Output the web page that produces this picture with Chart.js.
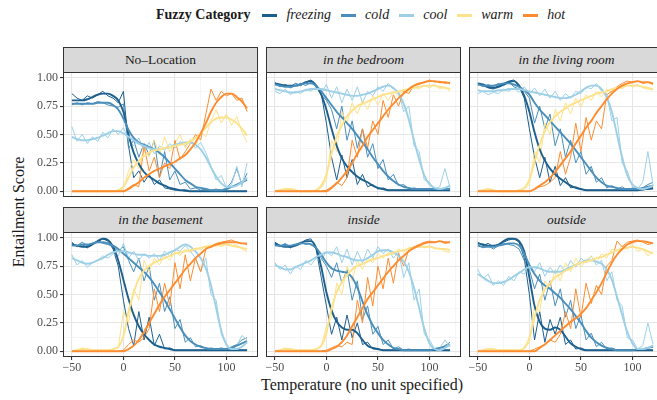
<!DOCTYPE html>
<html>
<head>
<meta charset="utf-8">
<script src="https://cdn.jsdelivr.net/npm/chart.js@4.4.1/dist/chart.umd.min.js"></script>
<style>
  body { margin: 0; width: 657px; height: 400px; overflow: hidden; position: relative; background: #fff; font-family: "Liberation Serif", "Times New Roman", serif; color: #1a1a1a; }
  #legend { position: absolute; left: 156px; top: 7px; display: flex; align-items: center; font-size: 14px; white-space: nowrap; }
  #legend .title { font-weight: bold; margin-right: 12px; }
  #legend .key { width: 15px; height: 3px; margin-right: 9px; }
  #legend .lab { font-style: italic; margin-right: 10px; }
  .strip { position: absolute; box-sizing: border-box; background: #d9d9d9; border: 1px solid #333; font-size: 13.5px; text-align: center; line-height: 23px; }
  .frame { position: absolute; box-sizing: border-box; border: 1px solid #333; pointer-events: none; }
  canvas { position: absolute; }
  #ytitle { position: absolute; left: 19px; top: 212px; transform: translate(-50%, -50%) rotate(-90deg); font-size: 16px; white-space: nowrap; }
  #xtitle { position: absolute; left: 362px; top: 385px; transform: translate(-50%, -50%); font-size: 16px; white-space: nowrap; }
</style>
</head>
<body>
<div id="legend"></div>
<div id="ytitle">Entailment Score</div>
<div id="xtitle">Temperature (no unit specified)</div>
<script>
// temperatures, every 5 degrees
const temps = [-50,-45,-40,-35,-30,-25,-20,-15,-10,-5,0,5,10,15,20,25,30,35,40,45,50,55,60,65,70,75,80,85,90,95,100,105,110,115,120];
const categories = ["freezing", "cold", "cool", "warm", "hot"];
const colors = ["#1d5f8c", "#4a8fbb", "#9dd0e7", "#fde28b", "#fd8c30"];
const xTicks = [-50, 0, 50, 100];
const xMinor = [-25, 25, 75, 125];
const yTicks = [0, 0.25, 0.5, 0.75, 1];
const yMinor = [0.125, 0.375, 0.625, 0.875];
const serif = "'Liberation Serif', 'Times New Roman', serif";

// No-Location
const noLocFreezing = [0.86,0.82,0.80,0.84,0.82,0.85,0.88,0.84,0.82,0.78,0.88,0.40,0.12,0.18,0.08,0.15,0.06,0.10,0.03,0.02,0.01,0.01,0,0,0,0,0,0,0,0,0,0,0,0,0];
const noLocFreezingFit = [0.80,0.80,0.80,0.81,0.83,0.85,0.86,0.86,0.84,0.80,0.70,0.50,0.34,0.24,0.17,0.13,0.10,0.07,0.05,0.03,0.02,0.01,0.01,0,0,0,0,0,0,0,0,0,0,0,0];
const noLocCold = [0.76,0.78,0.76,0.78,0.77,0.79,0.78,0.76,0.75,0.74,0.77,0.38,0.45,0.30,0.42,0.32,0.45,0.12,0.35,0.10,0.18,0.06,0.08,0.02,0.03,0.01,0.02,0.01,0.02,0.01,0.03,0.08,0.20,0.06,0.16];
const noLocColdFit = [0.77,0.77,0.77,0.77,0.77,0.78,0.78,0.78,0.76,0.72,0.64,0.54,0.47,0.43,0.41,0.39,0.37,0.34,0.30,0.25,0.20,0.15,0.10,0.07,0.04,0.03,0.02,0.01,0.01,0.01,0.02,0.04,0.06,0.08,0.10];
const noLocCool = [0.57,0.44,0.50,0.42,0.48,0.44,0.52,0.47,0.55,0.50,0.56,0.46,0.40,0.47,0.35,0.43,0.33,0.40,0.36,0.42,0.38,0.44,0.40,0.45,0.38,0.43,0.34,0.22,0.10,0.14,0.03,0.06,0.22,0.04,0.25];
const noLocCoolFit = [0.48,0.46,0.45,0.45,0.46,0.47,0.49,0.51,0.53,0.53,0.51,0.48,0.45,0.42,0.40,0.38,0.37,0.37,0.38,0.39,0.41,0.42,0.43,0.43,0.41,0.37,0.30,0.21,0.13,0.07,0.04,0.04,0.05,0.08,0.12];
const noLocWarm = [0,0,0,0,0,0,0,0,0,0,0.02,0.18,0.28,0.20,0.38,0.30,0.45,0.32,0.48,0.35,0.42,0.50,0.38,0.46,0.40,0.52,0.48,0.62,0.72,0.60,0.68,0.58,0.66,0.52,0.43];
const noLocWarmFit = [0,0,0,0,0,0,0,0,0,0.01,0.04,0.12,0.21,0.27,0.31,0.34,0.36,0.37,0.38,0.39,0.40,0.41,0.42,0.44,0.47,0.51,0.56,0.61,0.64,0.65,0.65,0.63,0.60,0.55,0.49];
const noLocHot = [0,0,0,0,0,0,0,0,0,0,0,0.03,0.06,0.04,0.40,0.18,0.30,0.12,0.25,0.20,0.45,0.28,0.35,0.42,0.50,0.45,0.68,0.90,0.80,0.88,0.84,0.86,0.80,0.82,0.70];
const noLocHotFit = [0,0,0,0,0,0,0,0,0,0,0,0.02,0.05,0.08,0.12,0.15,0.18,0.20,0.22,0.24,0.26,0.29,0.32,0.37,0.43,0.51,0.60,0.70,0.78,0.83,0.86,0.86,0.83,0.79,0.73];

// in the bedroom
const bedFreezing = [0.95,0.92,0.94,0.92,0.95,0.93,0.96,0.98,0.94,0.86,0.60,0.30,0.10,0.32,0.12,0.28,0.06,0.15,0.04,0.06,0.02,0.03,0.01,0.01,0.01,0.01,0.01,0.01,0.01,0.01,0.01,0.01,0.01,0.01,0.01];
const bedFreezingFit = [0.95,0.94,0.93,0.93,0.93,0.94,0.96,0.97,0.93,0.85,0.72,0.55,0.40,0.29,0.22,0.17,0.13,0.10,0.08,0.05,0.03,0.02,0.01,0.01,0.01,0.01,0.01,0.01,0.01,0.01,0.01,0.01,0.01,0.01,0.01];
const bedCold = [0.96,0.92,0.94,0.91,0.93,0.95,0.93,0.96,0.92,0.85,0.80,0.72,0.55,0.75,0.45,0.62,0.38,0.55,0.30,0.42,0.20,0.28,0.10,0.15,0.05,0.06,0.02,0.03,0.02,0.02,0.02,0.02,0.02,0.02,0.02];
const bedColdFit = [0.94,0.93,0.92,0.92,0.93,0.94,0.95,0.95,0.93,0.88,0.82,0.76,0.70,0.65,0.60,0.55,0.49,0.43,0.37,0.30,0.24,0.18,0.13,0.09,0.06,0.04,0.03,0.02,0.02,0.02,0.02,0.02,0.02,0.02,0.02];
const bedCool = [0.88,0.86,0.90,0.85,0.88,0.86,0.90,0.88,0.92,0.86,0.94,0.82,0.92,0.78,0.90,0.80,0.92,0.78,0.88,0.84,0.92,0.88,0.95,0.90,0.88,0.70,0.75,0.40,0.35,0.10,0.08,0.02,0.04,0.20,0.03];
const bedCoolFit = [0.90,0.89,0.88,0.87,0.87,0.88,0.89,0.90,0.90,0.90,0.89,0.88,0.87,0.86,0.85,0.84,0.84,0.85,0.86,0.88,0.90,0.92,0.93,0.91,0.86,0.77,0.63,0.45,0.28,0.14,0.06,0.03,0.02,0.03,0.05];
const bedWarm = [0,0.01,0.02,0.02,0.01,0,0,0,0.01,0.03,0.10,0.45,0.35,0.70,0.60,0.78,0.68,0.80,0.72,0.84,0.76,0.86,0.80,0.88,0.84,0.90,0.88,0.92,0.90,0.93,0.91,0.94,0.90,0.92,0.88];
const bedWarmFit = [0,0.01,0.02,0.02,0.01,0,0,0,0.01,0.05,0.15,0.33,0.48,0.58,0.66,0.71,0.75,0.77,0.79,0.81,0.83,0.85,0.86,0.87,0.88,0.89,0.90,0.91,0.92,0.93,0.93,0.93,0.92,0.91,0.90];
const bedHot = [0,0,0,0,0,0,0,0,0,0,0.01,0.04,0.08,0.05,0.12,0.45,0.30,0.55,0.38,0.62,0.50,0.80,0.65,0.85,0.75,0.88,0.86,0.93,0.94,0.96,0.98,0.96,0.97,0.95,0.96];
const bedHotFit = [0,0,0,0,0,0,0,0,0,0,0,0.03,0.07,0.12,0.18,0.25,0.33,0.40,0.48,0.54,0.60,0.66,0.72,0.77,0.82,0.86,0.90,0.93,0.95,0.96,0.97,0.97,0.96,0.96,0.95];

// in the living room
const livFreezing = [0.95,0.93,0.91,0.90,0.93,0.95,0.97,0.98,0.92,0.82,0.55,0.30,0.12,0.30,0.08,0.22,0.05,0.12,0.03,0.04,0.02,0.01,0.01,0.01,0.01,0.01,0.01,0.01,0.01,0.01,0.01,0.01,0.01,0.02,0.02];
const livFreezingFit = [0.95,0.94,0.92,0.91,0.92,0.94,0.96,0.97,0.93,0.84,0.70,0.52,0.37,0.27,0.20,0.15,0.11,0.08,0.05,0.03,0.02,0.01,0.01,0.01,0.01,0.01,0.01,0.01,0.01,0.01,0.01,0.01,0.02,0.02,0.03];
const livCold = [0.95,0.92,0.94,0.92,0.95,0.93,0.96,0.92,0.90,0.88,0.82,0.60,0.75,0.55,0.68,0.40,0.55,0.30,0.45,0.25,0.35,0.15,0.22,0.08,0.12,0.03,0.05,0.02,0.04,0.01,0.03,0.02,0.03,0.06,0.08];
const livColdFit = [0.94,0.93,0.93,0.93,0.94,0.95,0.95,0.94,0.92,0.89,0.85,0.78,0.72,0.67,0.62,0.57,0.52,0.47,0.42,0.36,0.30,0.24,0.18,0.12,0.08,0.05,0.04,0.03,0.02,0.02,0.02,0.02,0.03,0.04,0.05];
const livCool = [0.86,0.88,0.85,0.87,0.86,0.90,0.88,0.91,0.87,0.92,0.86,0.91,0.84,0.90,0.82,0.88,0.80,0.86,0.82,0.88,0.86,0.92,0.90,0.95,0.88,0.86,0.62,0.65,0.25,0.18,0.04,0.02,0.08,0.35,0.05];
const livCoolFit = [0.89,0.88,0.88,0.88,0.89,0.89,0.90,0.90,0.90,0.89,0.88,0.87,0.86,0.85,0.84,0.83,0.82,0.82,0.83,0.85,0.88,0.91,0.93,0.93,0.90,0.83,0.70,0.50,0.30,0.14,0.06,0.03,0.02,0.03,0.05];
const livWarm = [0,0.01,0.02,0.01,0,0,0,0,0.01,0.02,0.06,0.35,0.25,0.60,0.50,0.72,0.62,0.78,0.68,0.82,0.74,0.85,0.80,0.88,0.83,0.90,0.87,0.92,0.90,0.94,0.92,0.94,0.91,0.90,0.89];
const livWarmFit = [0,0.01,0.02,0.01,0,0,0,0,0.01,0.03,0.10,0.26,0.41,0.53,0.61,0.66,0.70,0.73,0.76,0.78,0.80,0.82,0.84,0.86,0.87,0.88,0.90,0.91,0.92,0.93,0.93,0.93,0.92,0.91,0.90];
const livHot = [0,0,0,0,0,0,0,0,0,0,0,0.02,0.04,0.05,0.08,0.12,0.35,0.15,0.30,0.60,0.35,0.65,0.45,0.62,0.55,0.85,0.88,0.92,0.95,0.97,0.96,0.97,0.95,0.96,0.94];
const livHotFit = [0,0,0,0,0,0,0,0,0,0,0,0.02,0.05,0.08,0.12,0.17,0.23,0.29,0.35,0.42,0.49,0.56,0.62,0.69,0.75,0.81,0.86,0.90,0.93,0.95,0.96,0.97,0.96,0.96,0.95];

// in the basement
const baseFreezing = [0.96,0.92,0.94,0.91,0.95,0.96,0.99,0.97,0.90,0.75,0.45,0.20,0.05,0.35,0.10,0.30,0.05,0.15,0.02,0.03,0.01,0.01,0.01,0.01,0.01,0.01,0.01,0.01,0.01,0.01,0.01,0.01,0.01,0.01,0.01];
const baseFreezingFit = [0.94,0.93,0.92,0.92,0.94,0.97,0.99,0.98,0.92,0.80,0.63,0.46,0.32,0.22,0.15,0.10,0.06,0.04,0.03,0.02,0.01,0.01,0.01,0.01,0.01,0.01,0.01,0.01,0.01,0.01,0.01,0.01,0.01,0.01,0.01];
const baseCold = [0.95,0.93,0.96,0.93,0.95,0.97,0.95,0.94,0.92,0.88,0.92,0.80,0.70,0.82,0.62,0.75,0.45,0.60,0.35,0.48,0.20,0.28,0.08,0.12,0.04,0.05,0.02,0.03,0.02,0.03,0.02,0.04,0.06,0.10,0.12];
const baseColdFit = [0.93,0.93,0.94,0.94,0.95,0.96,0.96,0.95,0.93,0.90,0.86,0.82,0.78,0.74,0.70,0.65,0.59,0.52,0.45,0.37,0.29,0.21,0.14,0.09,0.06,0.04,0.03,0.02,0.02,0.02,0.02,0.03,0.05,0.07,0.09];
const baseCool = [0.85,0.76,0.80,0.74,0.78,0.80,0.84,0.82,0.86,0.84,0.95,0.82,0.88,0.80,0.86,0.82,0.86,0.80,0.88,0.84,0.90,0.88,0.93,0.88,0.82,0.70,0.82,0.50,0.45,0.15,0.05,0.02,0.05,0.14,0.10];
const baseCoolFit = [0.82,0.80,0.78,0.77,0.78,0.80,0.82,0.85,0.87,0.88,0.88,0.87,0.86,0.85,0.85,0.84,0.84,0.84,0.85,0.87,0.89,0.92,0.94,0.92,0.88,0.82,0.73,0.58,0.38,0.18,0.06,0.02,0.02,0.04,0.08];
const baseWarm = [0,0.01,0.03,0.02,0.01,0.01,0.01,0.01,0.02,0.03,0.35,0.25,0.55,0.45,0.80,0.70,0.82,0.76,0.85,0.80,0.88,0.84,0.90,0.87,0.91,0.89,0.93,0.91,0.94,0.92,0.95,0.93,0.94,0.90,0.88];
const baseWarmFit = [0,0.01,0.02,0.02,0.01,0.01,0.01,0.01,0.02,0.04,0.13,0.35,0.52,0.64,0.71,0.75,0.78,0.80,0.82,0.84,0.86,0.87,0.88,0.89,0.90,0.91,0.92,0.93,0.93,0.94,0.94,0.93,0.92,0.91,0.90];
const baseHot = [0,0,0,0,0,0,0,0,0,0,0.01,0.06,0.10,0.08,0.12,0.20,0.55,0.35,0.60,0.40,0.78,0.55,0.85,0.62,0.82,0.70,0.90,0.92,0.95,0.96,0.97,0.98,0.96,0.95,0.94];
const baseHotFit = [0,0,0,0,0,0,0,0,0,0,0,0.02,0.05,0.10,0.17,0.25,0.33,0.41,0.48,0.54,0.60,0.66,0.72,0.77,0.82,0.86,0.90,0.92,0.94,0.95,0.96,0.96,0.96,0.95,0.95];

// inside
const inFreezing = [0.96,0.93,0.94,0.91,0.94,0.95,0.98,0.99,0.90,0.65,0.40,0.15,0.30,0.10,0.32,0.12,0.25,0.06,0.08,0.02,0.02,0.01,0.01,0.01,0.01,0.01,0.01,0.01,0.01,0.01,0.01,0.01,0.01,0.01,0.01];
const inFreezingFit = [0.95,0.93,0.92,0.92,0.93,0.95,0.97,0.97,0.91,0.74,0.52,0.36,0.26,0.21,0.19,0.19,0.16,0.10,0.05,0.03,0.02,0.01,0.01,0.01,0.01,0.01,0.01,0.01,0.01,0.01,0.01,0.01,0.01,0.01,0.01];
const inCold = [0.94,0.92,0.95,0.92,0.94,0.96,0.94,0.95,0.90,0.82,0.75,0.65,0.78,0.60,0.72,0.45,0.62,0.28,0.40,0.15,0.22,0.06,0.10,0.02,0.04,0.01,0.02,0.01,0.01,0.01,0.01,0.02,0.03,0.05,0.08];
const inColdFit = [0.93,0.93,0.93,0.93,0.94,0.95,0.95,0.94,0.91,0.85,0.78,0.73,0.71,0.70,0.69,0.65,0.56,0.44,0.32,0.23,0.16,0.10,0.06,0.03,0.02,0.01,0.01,0.01,0.01,0.01,0.01,0.02,0.03,0.04,0.06];
const inCool = [0.78,0.72,0.76,0.68,0.75,0.72,0.80,0.76,0.82,0.80,0.88,0.84,0.92,0.78,0.90,0.76,0.88,0.78,0.90,0.82,0.92,0.86,0.90,0.82,0.88,0.65,0.78,0.45,0.55,0.15,0.10,0.02,0.03,0.10,0.04];
const inCoolFit = [0.76,0.74,0.72,0.72,0.74,0.76,0.78,0.80,0.83,0.85,0.87,0.87,0.86,0.84,0.83,0.81,0.80,0.80,0.82,0.85,0.88,0.89,0.89,0.87,0.84,0.79,0.70,0.56,0.38,0.20,0.07,0.02,0.01,0.03,0.06];
const inWarm = [0,0.01,0.03,0.02,0.01,0.01,0.01,0.01,0.02,0.04,0.22,0.30,0.60,0.50,0.75,0.62,0.80,0.72,0.82,0.78,0.86,0.82,0.87,0.85,0.90,0.87,0.92,0.90,0.93,0.91,0.93,0.90,0.91,0.88,0.87];
const inWarmFit = [0,0.01,0.02,0.02,0.01,0.01,0.01,0.01,0.02,0.05,0.16,0.38,0.52,0.61,0.67,0.72,0.75,0.77,0.79,0.81,0.82,0.84,0.85,0.87,0.88,0.89,0.90,0.91,0.92,0.92,0.92,0.91,0.90,0.90,0.89];
const inHot = [0,0,0,0,0,0,0,0,0,0,0.01,0.03,0.05,0.04,0.08,0.06,0.45,0.25,0.65,0.40,0.75,0.55,0.82,0.60,0.86,0.75,0.90,0.92,0.94,0.96,0.97,0.96,0.97,0.95,0.96];
const inHotFit = [0,0,0,0,0,0,0,0,0,0,0,0.02,0.04,0.08,0.14,0.22,0.30,0.38,0.46,0.52,0.58,0.64,0.70,0.75,0.80,0.84,0.88,0.91,0.93,0.95,0.96,0.96,0.97,0.96,0.96];

// outside
const outFreezing = [0.96,0.93,0.95,0.92,0.94,0.96,0.98,0.99,0.96,0.82,0.50,0.10,0.35,0.08,0.28,0.15,0.30,0.06,0.10,0.02,0.03,0.01,0.01,0.01,0.01,0.01,0.01,0.01,0.01,0.01,0.01,0.01,0.01,0.01,0.01];
const outFreezingFit = [0.95,0.94,0.93,0.93,0.94,0.97,0.99,0.99,0.97,0.88,0.65,0.40,0.26,0.20,0.19,0.21,0.19,0.13,0.07,0.04,0.02,0.01,0.01,0.01,0.01,0.01,0.01,0.01,0.01,0.01,0.01,0.01,0.01,0.01,0.01];
const outCold = [0.94,0.91,0.93,0.90,0.93,0.95,0.94,0.93,0.90,0.80,0.72,0.55,0.68,0.45,0.62,0.40,0.55,0.30,0.45,0.20,0.32,0.10,0.16,0.04,0.08,0.02,0.03,0.01,0.01,0.01,0.01,0.01,0.02,0.03,0.05];
const outColdFit = [0.93,0.92,0.92,0.92,0.93,0.94,0.95,0.95,0.93,0.86,0.76,0.68,0.62,0.58,0.55,0.51,0.47,0.42,0.37,0.31,0.25,0.18,0.12,0.08,0.05,0.03,0.02,0.01,0.01,0.01,0.01,0.02,0.02,0.03,0.04];
const outCool = [0.72,0.64,0.68,0.58,0.62,0.58,0.66,0.62,0.70,0.68,0.76,0.70,0.78,0.66,0.74,0.68,0.76,0.70,0.80,0.74,0.82,0.78,0.84,0.76,0.80,0.62,0.70,0.45,0.40,0.12,0.10,0.02,0.05,0.25,0.06];
const outCoolFit = [0.68,0.65,0.62,0.60,0.60,0.61,0.63,0.66,0.69,0.72,0.74,0.74,0.73,0.71,0.70,0.70,0.70,0.72,0.74,0.76,0.78,0.80,0.80,0.79,0.77,0.72,0.63,0.48,0.32,0.17,0.07,0.02,0.02,0.03,0.05];
const outWarm = [0,0.01,0.02,0.02,0.01,0.01,0.01,0.01,0.01,0.02,0.08,0.40,0.35,0.62,0.55,0.72,0.62,0.78,0.70,0.82,0.74,0.80,0.84,0.78,0.86,0.82,0.90,0.88,0.93,0.90,0.94,0.88,0.90,0.84,0.88];
const outWarmFit = [0,0.01,0.02,0.02,0.01,0.01,0.01,0.01,0.01,0.03,0.12,0.30,0.45,0.54,0.60,0.65,0.68,0.71,0.73,0.76,0.78,0.79,0.80,0.82,0.83,0.85,0.87,0.89,0.90,0.91,0.92,0.91,0.90,0.88,0.86];
const outHot = [0,0,0,0,0,0,0,0,0,0,0,0.02,0.04,0.06,0.10,0.08,0.15,0.35,0.20,0.55,0.30,0.60,0.42,0.58,0.50,0.75,0.80,0.97,0.92,0.96,0.97,0.98,0.96,0.94,0.95];
const outHotFit = [0,0,0,0,0,0,0,0,0,0,0,0,0.03,0.06,0.10,0.14,0.18,0.22,0.26,0.29,0.33,0.38,0.45,0.52,0.60,0.69,0.78,0.85,0.90,0.94,0.96,0.97,0.97,0.96,0.95];

const panels = [
  { title: "No–Location", italic: false,
    raw: [noLocFreezing, noLocCold, noLocCool, noLocWarm, noLocHot],
    fit: [noLocFreezingFit, noLocColdFit, noLocCoolFit, noLocWarmFit, noLocHotFit] },
  { title: "in the bedroom", italic: true,
    raw: [bedFreezing, bedCold, bedCool, bedWarm, bedHot],
    fit: [bedFreezingFit, bedColdFit, bedCoolFit, bedWarmFit, bedHotFit] },
  { title: "in the living room", italic: true,
    raw: [livFreezing, livCold, livCool, livWarm, livHot],
    fit: [livFreezingFit, livColdFit, livCoolFit, livWarmFit, livHotFit] },
  { title: "in the basement", italic: true,
    raw: [baseFreezing, baseCold, baseCool, baseWarm, baseHot],
    fit: [baseFreezingFit, baseColdFit, baseCoolFit, baseWarmFit, baseHotFit] },
  { title: "inside", italic: true,
    raw: [inFreezing, inCold, inCool, inWarm, inHot],
    fit: [inFreezingFit, inColdFit, inCoolFit, inWarmFit, inHotFit] },
  { title: "outside", italic: true,
    raw: [outFreezing, outCold, outCool, outWarm, outHot],
    fit: [outFreezingFit, outColdFit, outCoolFit, outWarmFit, outHotFit] },
];

// legend
const legend = document.getElementById("legend");
legend.innerHTML = '<span class="title">Fuzzy Category</span>' +
  categories.map((c, i) => `<span class="key" style="background:${colors[i]}"></span><span class="lab">${c}</span>`).join("");

const colLeft = [63, 266, 469];
const rowTop = [72, 232];
const plotW = 195, plotH = 125, stripH = 25;
const axisW = 40, axisH = 18;

function pts(arr) {
  return arr.map((v, i) => ({ x: temps[i], y: v }));
}

function fmtX(v) {
  return v < 0 ? "\u2212" + Math.abs(v) : String(v);
}

panels.forEach((p, idx) => {
  const col = idx % 3, row = Math.floor(idx / 3);
  const left = colLeft[col], top = rowTop[row];
  const showY = col === 0, showX = row === 1;

  const canvas = document.createElement("canvas");
  canvas.width = plotW + axisW;
  canvas.height = plotH + axisH;
  canvas.style.left = (left - axisW) + "px";
  canvas.style.top = top + "px";
  document.body.appendChild(canvas);

  const strip = document.createElement("div");
  strip.className = "strip";
  strip.style.left = left + "px";
  strip.style.top = (top - stripH) + "px";
  strip.style.width = plotW + "px";
  strip.style.height = (stripH + 1) + "px";
  strip.style.fontStyle = p.italic ? "italic" : "normal";
  strip.textContent = p.title;
  document.body.appendChild(strip);

  const frame = document.createElement("div");
  frame.className = "frame";
  frame.style.left = left + "px";
  frame.style.top = top + "px";
  frame.style.width = plotW + "px";
  frame.style.height = plotH + "px";
  document.body.appendChild(frame);

  const datasets = [];
  categories.forEach((c, k) => {
    datasets.push({
      label: c + " (raw)", data: pts(p.raw[k]),
      borderColor: colors[k], borderWidth: 1, pointRadius: 0, tension: 0,
      order: 10 + (4 - k),
    });
    datasets.push({
      label: c, data: pts(p.fit[k]),
      borderColor: colors[k], borderWidth: 1.9, pointRadius: 0,
      cubicInterpolationMode: "monotone",
      order: 4 - k,
    });
  });

  const isMajorX = (c) => c.tick && xTicks.includes(c.tick.value);
  const isMajorY = (c) => c.tick && yTicks.includes(c.tick.value);

  new Chart(canvas.getContext("2d"), {
    type: "line",
    data: { datasets },
    options: {
      responsive: false,
      animation: false,
      events: [],
      layout: { padding: 0 },
      plugins: { legend: { display: false }, tooltip: { enabled: false } },
      scales: {
        x: {
          type: "linear", min: -58.6, max: 130.6,
          afterBuildTicks: (s) => { s.ticks = xTicks.concat(xMinor).sort((a, b) => a - b).map((v) => ({ value: v })); },
          afterFit: (s) => { s.height = axisH; s.paddingLeft = 0; s.paddingRight = 0; },
          border: { display: false },
          grid: {
            color: (c) => (isMajorX(c) ? "#e6e6e6" : "#f2f2f2"),
            lineWidth: (c) => (isMajorX(c) ? 1.1 : 0.7),
            drawTicks: showX, tickLength: 3,
            tickColor: (c) => (isMajorX(c) ? "#333333" : "rgba(0,0,0,0)"),
          },
          ticks: {
            display: showX, autoSkip: false, maxRotation: 0, padding: 1,
            color: "#4d4d4d", font: { family: serif, size: 12 },
            callback: (v) => (xTicks.includes(v) ? fmtX(v) : ""),
          },
        },
        y: {
          min: -0.05, max: 1.05,
          afterBuildTicks: (s) => { s.ticks = yTicks.concat(yMinor).sort((a, b) => a - b).map((v) => ({ value: v })); },
          afterFit: (s) => { s.width = axisW; s.paddingTop = 0; s.paddingBottom = 0; },
          border: { display: false },
          grid: {
            color: (c) => (isMajorY(c) ? "#e6e6e6" : "#f2f2f2"),
            lineWidth: (c) => (isMajorY(c) ? 1.1 : 0.7),
            drawTicks: showY, tickLength: 3,
            tickColor: (c) => (isMajorY(c) ? "#333333" : "rgba(0,0,0,0)"),
          },
          ticks: {
            display: showY, autoSkip: false, padding: 2,
            color: "#4d4d4d", font: { family: serif, size: 12 },
            callback: (v) => (yTicks.includes(v) ? v.toFixed(2) : ""),
          },
        },
      },
    },
  });
});
</script>
</body>
</html>
